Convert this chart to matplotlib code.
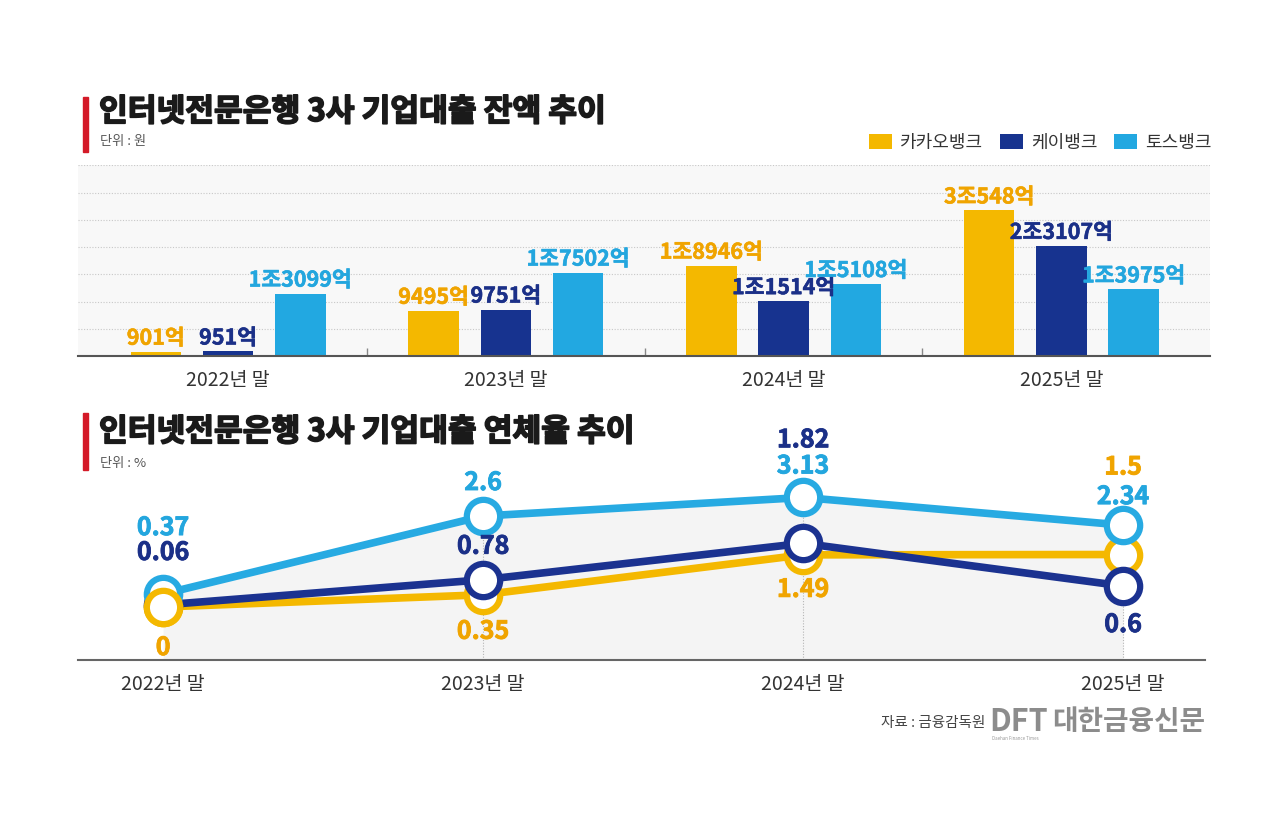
import numpy as np
import matplotlib
matplotlib.use("Agg")
import matplotlib.pyplot as plt
import matplotlib.patheffects as pe
from matplotlib.patches import Patch, Rectangle

plt.rcParams['font.family'] = ['Noto Sans CJK KR', 'DejaVu Sans']

# ---------------- data ----------------
categories = ['2022년 말', '2023년 말', '2024년 말', '2025년 말']
banks = ['카카오뱅크', '케이뱅크', '토스뱅크']
# 기업대출 잔액 (억원)
loan_kakao = [901, 9495, 18946, 30548]
loan_kbank = [951, 9751, 11514, 23107]
loan_toss = [13099, 17502, 15108, 13975]
# 기업대출 연체율 (%)
delinq_kakao = [0, 0.35, 1.49, 1.5]
delinq_kbank = [0.06, 0.78, 1.82, 0.6]
delinq_toss = [0.37, 2.6, 3.13, 2.34]

title_top = '인터넷전문은행 3사 기업대출 잔액 추이'
title_bottom = '인터넷전문은행 3사 기업대출 연체율 추이'
unit_top = '단위 : 원'
unit_bottom = '단위 : %'
source = '자료 : 금융감독원'

# ---------------- style ----------------
bar_colors = ['#F4B800', '#17338F', '#22A8E1']
label_colors = ['#F0A400', '#1B3088', '#23A6DE']
line_colors = ['#F4B800', '#1B3290', '#27AAE2']
W, H = 1286, 818

def fx(px):
    return px / W

def fy(py):
    return 1 - py / H

def won_label(v):
    if v >= 10000:
        return f'{v // 10000}조{v % 10000}억'
    return f'{v}억'

fig = plt.figure(figsize=(W / 100, H / 100), dpi=100)
fig.patch.set_facecolor('white')

# ---------------- headers ----------------
for (ty, uy, y0, y1, title, unit) in [(112, 142, 97, 152, title_top, unit_top),
                                       (432, 463, 413, 470, title_bottom, unit_bottom)]:
    fig.patches.append(Rectangle((fx(83), fy(y1)), fx(5), (y1 - y0) / H,
                                 transform=fig.transFigure, color='#D41A28'))
    fig.text(fx(99), fy(ty), title, fontsize=22.5, fontweight='black',
             color='#1a1a1a', va='center', ha='left',
             path_effects=[pe.withStroke(linewidth=1.2, foreground='#1a1a1a')])
    fig.text(fx(100), fy(uy), unit, fontsize=9.5, color='#555555',
             va='center', ha='left')

# ---------------- bar chart ----------------
axb = fig.add_axes([fx(78), fy(356), fx(1210) - fx(78), (356 - 165) / H])
axb.set_facecolor('#f8f8f8')
x = np.arange(len(categories))
offsets = [-0.26, 0.0, 0.26]
bw = 0.182
series = [loan_kakao, loan_kbank, loan_toss]
for i, vals in enumerate(series):
    bars = axb.bar(x + offsets[i], vals, width=bw, color=bar_colors[i],
                   zorder=3, label=banks[i])
    for b, v in zip(bars, vals):
        axb.annotate(won_label(v), (b.get_x() + b.get_width() / 2, v),
                     xytext=(0, 3), textcoords='offset pixels',
                     ha='center', va='bottom', fontsize=15.5, fontweight='bold',
                     color=label_colors[i], zorder=5,
                     path_effects=[pe.withStroke(linewidth=0.4, foreground=label_colors[i])])

axb.set_xlim(-0.54, 3.535)
axb.set_ylim(0, 40000 * 1.002)
axb.set_yticks(np.linspace(0, 40000, 8))
axb.yaxis.grid(True, color='#c8c8c8', linestyle=(0, (1, 1.5)), linewidth=0.8, zorder=0)
axb.tick_params(axis='y', length=0, labelleft=False)
axb.set_xticks(x)
axb.set_xticklabels(categories, fontsize=14, color='#333333')
axb.set_xticks([0.5, 1.5, 2.5], minor=True)
axb.tick_params(axis='x', which='major', length=0, pad=10)
axb.tick_params(axis='x', which='minor', direction='in', length=6, width=1, color='#888888')
for s in ['top', 'left', 'right']:
    axb.spines[s].set_visible(False)
axb.spines['bottom'].set_color('#555555')
axb.spines['bottom'].set_linewidth(1.5)
axb.spines['bottom'].set_zorder(4)

handles = [Patch(facecolor=c, edgecolor='none') for c in bar_colors]
fig.legend(handles, banks, loc='center right', bbox_to_anchor=(fx(1212), fy(143)),
           ncol=3, frameon=False, fontsize=13, handlelength=1.3, handleheight=0.9,
           columnspacing=0.9, handletextpad=0.45, labelcolor='#333333',
           borderaxespad=0, borderpad=0)

# ---------------- line chart ----------------
axl = fig.add_axes([fx(78), fy(660), fx(1205) - fx(78), (660 - 420) / H])
axl.set_facecolor('white')
xl = np.arange(len(categories))
ybot, ytop = -1.514, 5.343
axl.set_xlim(-0.266, 3.256)
axl.set_ylim(ybot, ytop)

lines = [delinq_kakao, delinq_kbank, delinq_toss]
axl.fill_between(xl, delinq_toss, ybot, color='#f4f4f4', zorder=0.5, linewidth=0)
tops = np.max(np.array(lines), axis=0)
axl.vlines(xl[1:], ybot, tops[1:], colors='#b5b5b5', linestyles=(0, (1, 1.5)),
           linewidth=0.8, zorder=1)

for i, vals in enumerate(lines):
    axl.plot(xl, vals, color=line_colors[i], lw=5.5, zorder=2 + i,
             solid_capstyle='butt')
for i, vals in enumerate(lines):
    axl.plot(xl, vals, linestyle='none', marker='o', ms=24, mew=4.5,
             mfc='white', mec=line_colors[i], zorder=6 + i)
# kakao marker on top at the first point
axl.plot(xl[:1], delinq_kakao[:1], linestyle='none', marker='o', ms=24, mew=4.5,
         mfc='white', mec=line_colors[0], zorder=10)

label_up = [[-41, -37, -35, 87],
            [52, 33, 103, -39],
            [66, 33, 31, 28]]
for i, vals in enumerate(lines):
    for j, v in enumerate(vals):
        axl.annotate(f'{v:g}', (xl[j], v), xytext=(0, label_up[i][j]),
                     textcoords='offset pixels', ha='center', va='center',
                     fontsize=18, fontweight='bold', color=label_colors[i],
                     zorder=12,
                     path_effects=[pe.withStroke(linewidth=0.6, foreground=label_colors[i])])

axl.set_xticks(xl)
axl.set_xticklabels(categories, fontsize=14, color='#333333')
axl.tick_params(axis='x', length=0, pad=10)
axl.tick_params(axis='y', length=0, labelleft=False)
for s in ['top', 'left', 'right']:
    axl.spines[s].set_visible(False)
axl.spines['bottom'].set_color('#666666')
axl.spines['bottom'].set_linewidth(1.5)

# ---------------- source & logo ----------------
fig.text(fx(985), fy(723), source, fontsize=10.5, color='#444444', ha='right', va='center')
fig.text(fx(989), fy(722), 'DFT', fontsize=22, fontweight='black', color='#8c8c8c',
         ha='left', va='center')
fig.text(fx(1052), fy(722), '대한금융신문', fontsize=20, fontweight='black',
         color='#8c8c8c', ha='left', va='center')
fig.text(fx(992), fy(739), 'Daehan Finance Times', fontsize=3.2, color='#999999',
         ha='left', va='center')

fig.savefig('out.png', dpi=100, facecolor='white')
